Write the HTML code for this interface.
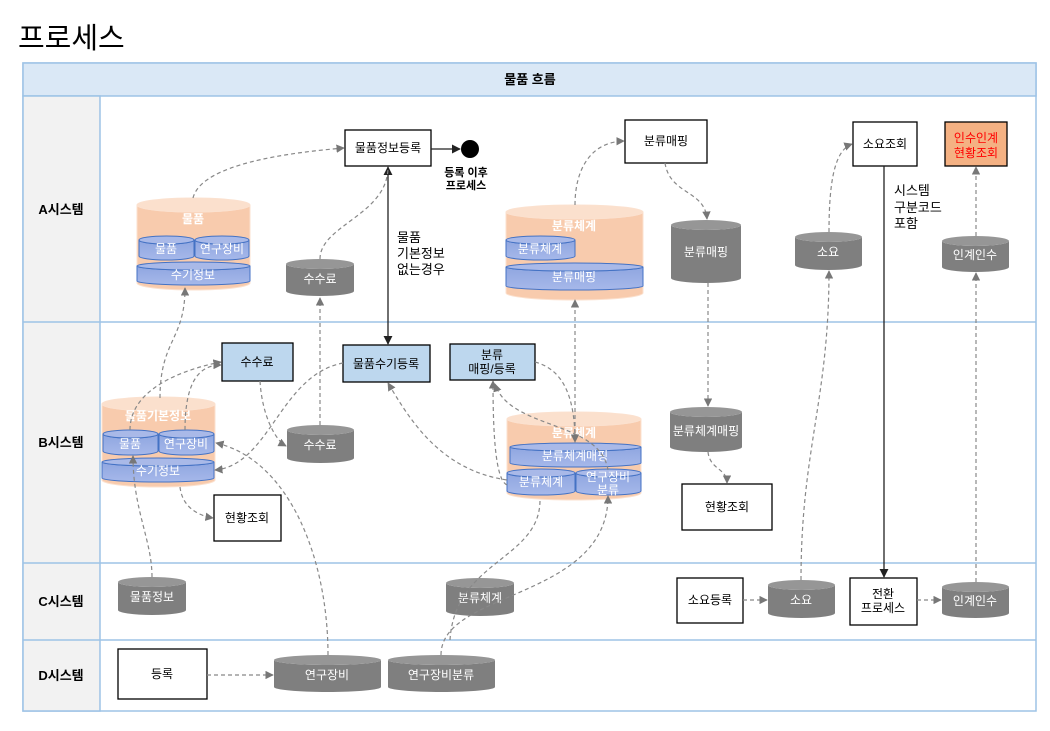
<!DOCTYPE html>
<html><head><meta charset="utf-8">
<style>
body{margin:0;background:#fff;width:1050px;height:726px;overflow:hidden;font-family:"Liberation Sans","Noto Sans CJK KR",sans-serif}
svg text{font-family:"Liberation Sans","Noto Sans CJK KR",sans-serif}
</style></head><body>
<svg width="1050" height="726" viewBox="0 0 1050 726" xmlns="http://www.w3.org/2000/svg">
<defs>
<marker id="ga" viewBox="0 0 10 10" refX="9" refY="5" markerWidth="7" markerHeight="7" orient="auto-start-reverse"><path d="M0,0 L10,5 L0,10 Z" fill="#777"/></marker>
<marker id="ba" viewBox="0 0 10 10" refX="9" refY="5" markerWidth="7" markerHeight="7" orient="auto-start-reverse"><path d="M0,0 L10,5 L0,10 Z" fill="#222"/></marker>
<linearGradient id="bl" x1="0" y1="0" x2="0" y2="1"><stop offset="0" stop-color="#8fa6e0"/><stop offset="1" stop-color="#a6b8ea"/></linearGradient>
</defs>
<text x="18" y="48" font-size="29" fill="#000">프로세스</text>
<!-- lanes -->
<rect x="23" y="63" width="1013" height="648" fill="#fff" stroke="#9dc3e6" stroke-width="1.5"/>
<rect x="23" y="63" width="1013" height="33" fill="#dae8f6" stroke="#9dc3e6" stroke-width="1.5"/>
<text x="530" y="84" font-size="13" font-weight="bold" text-anchor="middle">물품 흐름</text>
<rect x="23" y="96" width="77" height="615" fill="#f2f2f2" stroke="#9dc3e6" stroke-width="1.5"/>
<g stroke="#9dc3e6" stroke-width="1.5"><line x1="23" y1="322" x2="1036" y2="322"/><line x1="23" y1="563" x2="1036" y2="563"/><line x1="23" y1="640" x2="1036" y2="640"/></g>
<g font-size="13" font-weight="bold" text-anchor="middle"><text x="61" y="214">A시스템</text><text x="61" y="447">B시스템</text><text x="61" y="606">C시스템</text><text x="61" y="680">D시스템</text></g>

<!-- orange cylinders -->
<g fill="#f8cbad" stroke="#fbe1cf">
<path d="M137,205 A56.5,7 0 0 0 250,205 V283 A56.5,7 0 0 1 137,283 Z"/><ellipse cx="193.5" cy="205" rx="56.5" ry="7" fill="#fbe0cd"/>
<path d="M506,212 A68.5,7 0 0 0 643,212 V293 A68.5,7 0 0 1 506,293 Z"/><ellipse cx="574.5" cy="212" rx="68.5" ry="7" fill="#fbe0cd"/>
<path d="M102,404 A56.5,7 0 0 0 215,404 V480 A56.5,7 0 0 1 102,480 Z"/><ellipse cx="158.5" cy="404" rx="56.5" ry="7" fill="#fbe0cd"/>
<path d="M507,419 A67,7 0 0 0 641,419 V493 A67,7 0 0 1 507,493 Z"/><ellipse cx="574" cy="419" rx="67" ry="7" fill="#fbe0cd"/>
</g>
<g font-size="12" fill="#fff" text-anchor="middle" font-weight="bold">
<text x="193" y="223">물품</text><text x="574" y="230">분류체계</text><text x="158" y="420">물품기본정보</text><text x="574" y="437">분류체계</text></g>

<!-- blue inner cylinders -->
<g fill="url(#bl)" stroke="#4472c4" stroke-width="1">
<path d="M139,240 A27.5,4 0 0 0 194,240 V256 A27.5,4 0 0 1 139,256 Z"/><ellipse cx="166.5" cy="240" rx="27.5" ry="4" fill="#a9b9e8"/>
<path d="M195,240 A27,4 0 0 0 249,240 V256 A27,4 0 0 1 195,256 Z"/><ellipse cx="222" cy="240" rx="27" ry="4" fill="#a9b9e8"/>
<path d="M137,266 A56.5,4 0 0 0 250,266 V281 A56.5,4 0 0 1 137,281 Z"/><ellipse cx="193.5" cy="266" rx="56.5" ry="4" fill="#a9b9e8"/>
<path d="M506,240 A34.5,4 0 0 0 575,240 V256 A34.5,4 0 0 1 506,256 Z"/><ellipse cx="540.5" cy="240" rx="34.5" ry="4" fill="#a9b9e8"/>
<path d="M506,267 A68.5,4 0 0 0 643,267 V286 A68.5,4 0 0 1 506,286 Z"/><ellipse cx="574.5" cy="267" rx="68.5" ry="4" fill="#a9b9e8"/>
<path d="M103,434 A27.5,4 0 0 0 158,434 V451 A27.5,4 0 0 1 103,451 Z"/><ellipse cx="130.5" cy="434" rx="27.5" ry="4" fill="#a9b9e8"/>
<path d="M159,434 A27.5,4 0 0 0 214,434 V451 A27.5,4 0 0 1 159,451 Z"/><ellipse cx="186.5" cy="434" rx="27.5" ry="4" fill="#a9b9e8"/>
<path d="M102,462 A56,4 0 0 0 214,462 V478 A56,4 0 0 1 102,478 Z"/><ellipse cx="158" cy="462" rx="56" ry="4" fill="#a9b9e8"/>
<path d="M510,447 A65.5,4 0 0 0 641,447 V463 A65.5,4 0 0 1 510,463 Z"/><ellipse cx="575.5" cy="447" rx="65.5" ry="4" fill="#a9b9e8"/>
<path d="M507,473 A34,4 0 0 0 575,473 V491 A34,4 0 0 1 507,491 Z"/><ellipse cx="541" cy="473" rx="34" ry="4" fill="#a9b9e8"/>
<path d="M576,473 A32.5,4 0 0 0 641,473 V491 A32.5,4 0 0 1 576,491 Z"/><ellipse cx="608.5" cy="473" rx="32.5" ry="4" fill="#a9b9e8"/>
</g>
<g font-size="12" fill="#fff" text-anchor="middle">
<text x="166" y="253">물품</text><text x="222" y="253">연구장비</text><text x="193" y="279">수기정보</text>
<text x="540" y="253">분류체계</text><text x="574" y="281">분류매핑</text>
<text x="130" y="448">물품</text><text x="186" y="448">연구장비</text><text x="158" y="475">수기정보</text>
<text x="575" y="460">분류체계매핑</text><text x="541" y="486">분류체계</text><text x="608" y="481">연구장비</text><text x="608" y="494">분류</text>
</g>

<!-- gray cylinders -->
<g fill="#7f7f7f">
<path d="M286,264 A34,5 0 0 0 354,264 V291 A34,5 0 0 1 286,291 Z"/>
<path d="M671,225 A35,5 0 0 0 741,225 V278 A35,5 0 0 1 671,278 Z"/>
<path d="M795,237 A33.5,5 0 0 0 862,237 V265 A33.5,5 0 0 1 795,265 Z"/>
<path d="M942,241 A33.5,5 0 0 0 1009,241 V267 A33.5,5 0 0 1 942,267 Z"/>
<path d="M287,430 A33.5,5 0 0 0 354,430 V458 A33.5,5 0 0 1 287,458 Z"/>
<path d="M670,412 A36,5 0 0 0 742,412 V447 A36,5 0 0 1 670,447 Z"/>
<path d="M118,582 A34,5 0 0 0 186,582 V610 A34,5 0 0 1 118,610 Z"/>
<path d="M446,583 A34,5 0 0 0 514,583 V611 A34,5 0 0 1 446,611 Z"/>
<path d="M768,585 A33.5,5 0 0 0 835,585 V613 A33.5,5 0 0 1 768,613 Z"/>
<path d="M942,587 A33.5,5 0 0 0 1009,587 V613 A33.5,5 0 0 1 942,613 Z"/>
<path d="M274,660 A53.5,5 0 0 0 381,660 V687 A53.5,5 0 0 1 274,687 Z"/>
<path d="M388,660 A53.5,5 0 0 0 495,660 V687 A53.5,5 0 0 1 388,687 Z"/>
</g>
<g fill="#969696">
<ellipse cx="320" cy="264" rx="34" ry="5"/><ellipse cx="706" cy="225" rx="35" ry="5"/><ellipse cx="828.5" cy="237" rx="33.5" ry="5"/><ellipse cx="975.5" cy="241" rx="33.5" ry="5"/>
<ellipse cx="320.5" cy="430" rx="33.5" ry="5"/><ellipse cx="706" cy="412" rx="36" ry="5"/><ellipse cx="152" cy="582" rx="34" ry="5"/><ellipse cx="480" cy="583" rx="34" ry="5"/>
<ellipse cx="801.5" cy="585" rx="33.5" ry="5"/><ellipse cx="975.5" cy="587" rx="33.5" ry="5"/><ellipse cx="327.5" cy="660" rx="53.5" ry="5"/><ellipse cx="441.5" cy="660" rx="53.5" ry="5"/>
</g>
<g font-size="12" fill="#fff" text-anchor="middle">
<text x="320" y="283">수수료</text><text x="706" y="256">분류매핑</text><text x="828" y="256">소요</text><text x="975" y="259">인계인수</text>
<text x="320" y="449">수수료</text><text x="706" y="435">분류체계매핑</text><text x="152" y="601">물품정보</text><text x="480" y="602">분류체계</text>
<text x="801" y="604">소요</text><text x="975" y="605">인계인수</text><text x="327" y="679">연구장비</text><text x="441" y="679">연구장비분류</text>
</g>

<!-- boxes -->
<g stroke="#000" stroke-width="1.3">
<rect x="345" y="130" width="86" height="36" fill="#fff"/>
<rect x="625" y="120" width="82" height="43" fill="#fff"/>
<rect x="853" y="122" width="64" height="44" fill="#fff"/>
<rect x="945" y="122" width="62" height="44" fill="#f4b183"/>
<rect x="222" y="343" width="71" height="38" fill="#bdd7ee"/>
<rect x="343" y="345" width="87" height="37" fill="#bdd7ee"/>
<rect x="450" y="344" width="85" height="36" fill="#bdd7ee"/>
<rect x="214" y="495" width="67" height="46" fill="#fff"/>
<rect x="682" y="484" width="90" height="46" fill="#fff"/>
<rect x="677" y="578" width="66" height="45" fill="#fff"/>
<rect x="850" y="578" width="67" height="47" fill="#fff"/>
<rect x="118" y="649" width="89" height="50" fill="#fff"/>
</g>
<g font-size="12" text-anchor="middle" fill="#000">
<text x="388" y="152">물품정보등록</text><text x="666" y="145">분류매핑</text><text x="885" y="148">소요조회</text>
<text x="976" y="142" fill="#ff0000">인수인계</text><text x="976" y="157" fill="#ff0000">현황조회</text>
<text x="257" y="366">수수료</text><text x="386" y="368">물품수기등록</text><text x="492" y="359">분류</text><text x="492" y="373">매핑/등록</text>
<text x="247" y="522">현황조회</text><text x="727" y="511">현황조회</text><text x="710" y="604">소요등록</text>
<text x="883" y="598">전환</text><text x="883" y="612">프로세스</text><text x="162" y="678">등록</text>
</g>
<circle cx="470" cy="149" r="9" fill="#000"/>
<g font-size="11" font-weight="bold" text-anchor="middle"><text x="466" y="176">등록 이후</text><text x="466" y="189">프로세스</text></g>
<g font-size="13"><text x="397" y="242">물품</text><text x="397" y="258">기본정보</text><text x="397" y="274">없는경우</text>
<text x="894" y="195">시스템</text><text x="894" y="212">구분코드</text><text x="894" y="228">포함</text></g>

<!-- solid connectors -->
<g stroke="#222" stroke-width="1.3" fill="none">
<line x1="431" y1="149" x2="460" y2="149" marker-end="url(#ba)"/>
<line x1="388" y1="167" x2="388" y2="344" marker-start="url(#ba)" marker-end="url(#ba)"/>
<line x1="884" y1="166" x2="884" y2="577" marker-end="url(#ba)"/>
</g>
<!-- dashed connectors -->
<g stroke="#888" stroke-width="1.2" fill="none" stroke-dasharray="4,3" marker-end="url(#ga)">
<path d="M193,198 C200,170 260,155 344,148"/>
<path d="M320,259 C320,225 388,215 388,167" marker-end="none"/>
<path d="M575,205 C575,170 590,142 624,141"/>
<path d="M665,163 C670,195 705,190 707,219"/>
<path d="M708,283 V406"/>
<path d="M708,452 C710,470 727,468 727,483"/>
<path d="M829,232 C829,180 835,150 852,144"/>
<path d="M976,236 V167"/>
<path d="M801,580 C801,450 829,400 829,271"/>
<path d="M976,582 V273"/>
<path d="M743,600 H767"/>
<path d="M917,600 H941"/>
<path d="M207,675 H273"/>
<path d="M328,655 C328,560 290,460 216,443"/>
<path d="M441,655 C441,590 608,600 608,496"/>
<path d="M450,640 C455,560 540,560 540,500" marker-end="none"/>
<path d="M152,577 C152,540 133,510 133,456"/>
<path d="M160,398 C160,340 185,340 185,288"/>
<path d="M130,430 C130,390 180,370 221,362"/>
<path d="M185,430 C185,380 200,365 221,365" />
<path d="M260,381 C262,415 275,440 286,446"/>
<path d="M320,425 V298"/>
<path d="M343,363 C280,375 270,465 215,470"/>
<path d="M180,487 C182,505 195,515 213,518"/>
<path d="M507,480 C440,470 410,420 388,383"/>
<path d="M575,440 V300"/>
<path d="M535,362 C565,370 575,400 575,442"/>
<path d="M507,485 C495,480 493,430 493,381"/>
<path d="M608,470 C600,420 510,430 495,384"/>
</g>
</svg>
</body></html>
